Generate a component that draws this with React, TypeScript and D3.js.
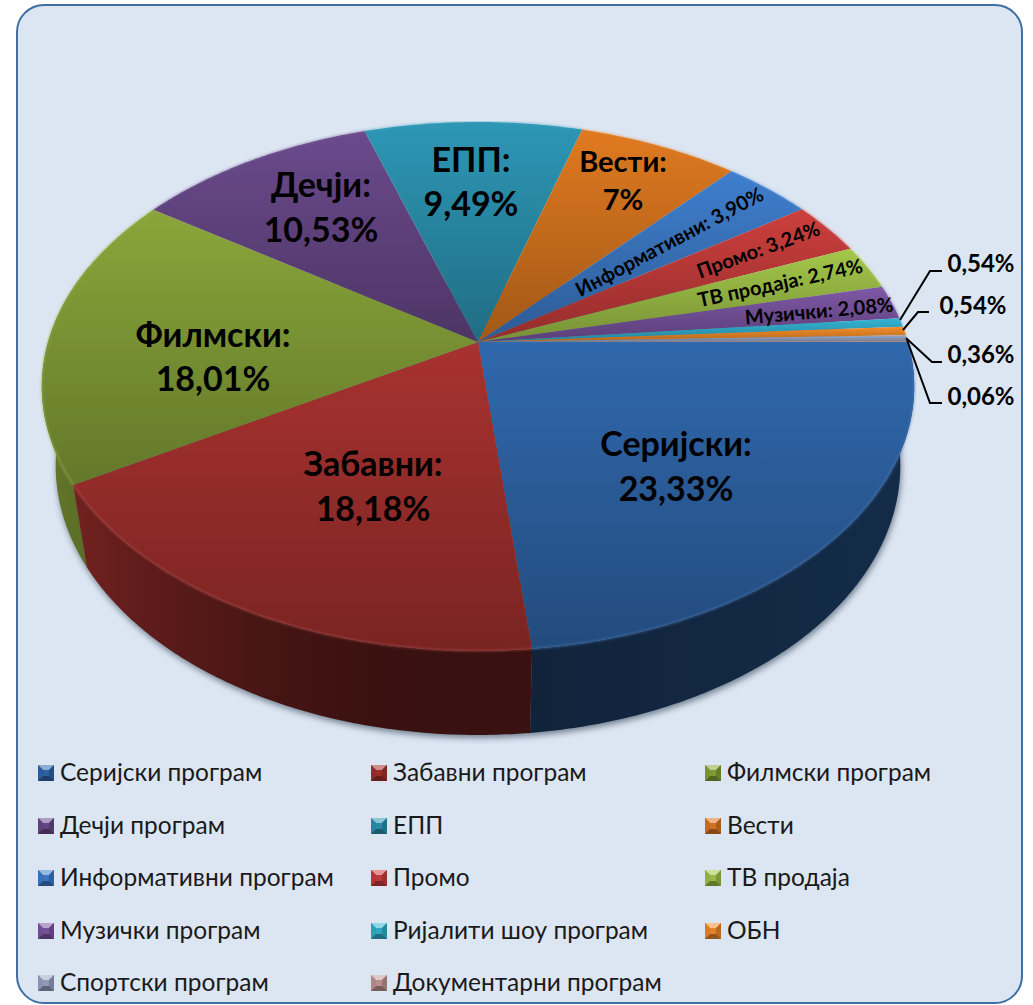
import React from "react";
import * as d3 from "d3";

// ---- data ----
const legendNames = [
  "Серијски програм", "Забавни програм", "Филмски програм",
  "Дечји програм", "ЕПП", "Вести",
  "Информативни програм", "Промо", "ТВ продаја",
  "Музички програм", "Ријалити шоу програм", "ОБН",
  "Спортски програм", "Документарни програм",
];
const shares = [23.33, 18.18, 18.01, 10.53, 9.49, 7, 3.9, 3.24, 2.74, 2.08, 0.54, 0.54, 0.36, 0.06];
const sliceColors = [
  "#3068ad", "#a8322f", "#8aa63a", "#6b4a8c", "#2d97b6", "#e07a20", "#3f7fce",
  "#cd3f3d", "#a4c84a", "#7f58a6", "#33b5d4", "#f58e2a", "#9aa8c8", "#c99a98",
];
const bigLabels = [
  { i: 0, lines: ["Серијски:", "23,33%"] },
  { i: 1, lines: ["Забавни:", "18,18%"] },
  { i: 2, lines: ["Филмски:", "18,01%"] },
  { i: 3, lines: ["Дечји:", "10,53%"] },
  { i: 4, lines: ["ЕПП:", "9,49%"] },
  { i: 5, lines: ["Вести:", "7%"] },
];
const rotatedLabels = ["Информативни: 3,90%", "Промо: 3,24%", "ТВ продаја: 2,74%", "Музички: 2,08%"];
const outerLabels = ["0,54%", "0,54%", "0,36%", "0,06%"];

// ---- layout (not data) ----
const W = 1033, H = 1005;
const FONT = "Lato, 'Open Sans', 'Noto Sans', sans-serif";
const cx = 478, cy = 342;
const R = 430, S = 257, P = 0.168, Q = 0.032, DEPTH = 82.5;
const bigLayout = [
  { x: 676, y: 442.5, dy: 45, size: 34 },
  { x: 373, y: 462.5, dy: 45, size: 34 },
  { x: 213, y: 333, dy: 44, size: 34 },
  { x: 321, y: 183, dy: 45, size: 34 },
  { x: 471, y: 158.5, dy: 44, size: 34 },
  { x: 623, y: 160, dy: 38, size: 29 },
];
const rotatedLayout = [
  { x: 669, y: 241, rot: -28, size: 20 },
  { x: 758, y: 249, rot: -20, size: 20 },
  { x: 780, y: 282, rot: -12, size: 20 },
  { x: 819, y: 310, rot: -5, size: 20 },
];
const outerLayout = [
  { elbow: [930, 271], end: [942, 271], tx: 981, ty: 262, start: [900, 320] },
  { elbow: [918, 312], end: [929, 312], tx: 973, ty: 304, start: [903, 330] },
  { elbow: [932, 362], end: [942, 362], tx: 981, ty: 353, start: [906, 338] },
  { elbow: [930, 403], end: [942, 403], tx: 981, ty: 395, start: [907, 340] },
];
const legendCols = [38, 371, 705];
const legendRows = [773, 826, 878, 931, 983];

// perspective projection of a pie point at clockwise angle a from north
const proj = (a: number, rad = 1, low = false): [number, number] => {
  const x = Math.sin(a) * rad, y = Math.cos(a) * rad;
  const w = 1 + P * y + (low ? Q : 0);
  return [cx + (R * x) / w, cy + (-S * y + (low ? DEPTH : 0)) / w];
};
const line = d3.line();
const arcs = d3.pie<number>().sort(null).startAngle(Math.PI / 2).endAngle(Math.PI * 2.5)(shares);
const arcPts = (a0: number, a1: number, low = false) => {
  const n = Math.max(2, Math.ceil((a1 - a0) / 0.01));
  return d3.range(n + 1).map((k) => proj(a0 + ((a1 - a0) * k) / n, 1, low));
};
const scale = (c: string, f: number) => {
  const r = d3.rgb(c);
  return d3.rgb(r.r * f, r.g * f, r.b * f).formatHex();
};
// side wall brightness as a function of horizontal position
const GX0 = 40, GX1 = 920;
const sideShade = (t: number) => {
  const sx = Math.min(1, (GX0 + (GX1 - GX0) * t - cx) / R);
  return sx < 0 ? 0.33 + 0.39 * sx * sx : 0.33 + 0.09 * sx;
};
const gradStops = d3.range(0, 1.0001, 0.05);
const SIDE_FROM = Math.PI * 0.4, SIDE_TO = Math.PI * 1.6;
const walls = arcs
  .map((s, i) => ({ i, a0: Math.max(s.startAngle, SIDE_FROM), a1: Math.min(s.endAngle, SIDE_TO) }))
  .filter((w) => w.a1 > w.a0)
  .map((w) => ({
    ...w,
    d: line([...arcPts(w.a0, w.a1), ...arcPts(w.a0, w.a1, true).reverse()]) + "Z",
    z: -Math.cos((w.a0 + w.a1) / 2),
  }))
  .sort((a, b) => a.z - b.z);

function Marker({ x, y, color }: { x: number; y: number; color: string }) {
  const s = 16, b = 5;
  const tri = (pts: [number, number][], fill: string) => <path d={line(pts) + "Z"} fill={fill} />;
  return (
    <g transform={`translate(${x},${y})`}>
      <rect width={s} height={s} fill={scale(color, 0.92)} />
      {tri([[0, 0], [s, 0], [s - b, b], [b, b]], d3.interpolateRgb(color, "#fff")(0.45))}
      {tri([[0, 0], [b, b], [b, s - b], [0, s]], scale(color, 0.88))}
      {tri([[s, 0], [s - b, b], [s - b, s - b], [s, s]], scale(color, 0.75))}
      {tri([[0, s], [b, s - b], [s - b, s - b], [s, s]], scale(color, 0.6))}
    </g>
  );
}

export default function App() {
  return (
    <svg
      width={W}
      height={H}
      viewBox={`0 0 ${W} ${H}`}
      style={{ position: "absolute", left: 0, top: 0, display: "block", background: "#fff" }}
    >
      <defs>
        <filter id="pieShadow" x="-10%" y="-10%" width="120%" height="120%">
          <feGaussianBlur stdDeviation="3" />
        </filter>
        <filter id="rimBlur" x="-5%" y="-5%" width="110%" height="110%">
          <feGaussianBlur stdDeviation="0.8" />
        </filter>
        {arcs.map((_, i) => (
          <linearGradient key={i} id={`top${i}`} x1="0" y1="0" x2="0" y2="1">
            <stop offset="0" stopColor={sliceColors[i]} />
            <stop offset="1" stopColor={scale(sliceColors[i], 0.72)} />
          </linearGradient>
        ))}
        {arcs.map((_, i) => (
          <linearGradient key={i} id={`side${i}`} gradientUnits="userSpaceOnUse" x1={GX0} y1={0} x2={GX1} y2={0}>
            {gradStops.map((t) => (
              <stop key={t} offset={t} stopColor={scale(sliceColors[i], sideShade(t))} />
            ))}
          </linearGradient>
        ))}
      </defs>

      <rect x={17} y={5} width={1005} height={998} rx={27} ry={27} fill="#dce6f2" stroke="#3f6ea5" strokeWidth={2} />

      {/* drop shadow under the pie */}
      <path
        d={line(arcPts(Math.PI * 0.3, Math.PI * 1.7, true)) + "Z"}
        fill="#2a3a4e"
        opacity={0.6}
        filter="url(#pieShadow)"
        transform="translate(1,3)"
      />

      {/* side wall */}
      {walls.map((w) => (
        <path key={w.i} d={w.d} fill={`url(#side${w.i})`} />
      ))}

      {/* top surface */}
      {arcs.map((s, i) => (
        <path
          key={i}
          d={line([[cx, cy], ...arcPts(s.startAngle, s.endAngle)]) + "Z"}
          fill={`url(#top${i})`}
        />
      ))}
      {/* bevel highlight */}
      {arcs.map((s, i) => (
        <path
          key={i}
          d={line(arcPts(s.startAngle, s.endAngle)) as string}
          fill="none"
          stroke={d3.interpolateRgb(sliceColors[i], "#fff")(0.12)}
          strokeWidth={2}
          opacity={0.5}
          filter="url(#rimBlur)"
        />
      ))}

      {/* leader lines */}
      {outerLayout.map((o, i) => (
        <path key={i} d={line([o.start as [number, number], o.elbow as [number, number], o.end as [number, number]]) as string} fill="none" stroke="#000" strokeWidth={2} />
      ))}

      {/* labels */}
      <g fontFamily={FONT} fontWeight={700} fill="#000" textAnchor="middle" dominantBaseline="central">
        {bigLabels.map((l, k) => {
          const p = bigLayout[k];
          return l.lines.map((t, j) => (
            <text key={`${k}-${j}`} x={p.x} y={p.y + j * p.dy} fontSize={p.size}>{t}</text>
          ));
        })}
        {rotatedLabels.map((t, k) => {
          const p = rotatedLayout[k];
          return (
            <text key={k} transform={`translate(${p.x},${p.y}) rotate(${p.rot})`} fontSize={p.size}>{t}</text>
          );
        })}
        {outerLabels.map((t, k) => (
          <text key={k} x={outerLayout[k].tx} y={outerLayout[k].ty} fontSize={24}>{t}</text>
        ))}
      </g>

      {/* legend */}
      {legendNames.map((name, i) => {
        const x = legendCols[i % 3];
        const y = legendRows[Math.floor(i / 3)];
        return (
          <g key={i}>
            <Marker x={x} y={y - 8} color={sliceColors[i]} />
            <text x={x + 22} y={y - 1.5} fontFamily={FONT} fontSize={24.5} fill="#1a1a1a" dominantBaseline="central">{name}</text>
          </g>
        );
      })}
    </svg>
  );
}
